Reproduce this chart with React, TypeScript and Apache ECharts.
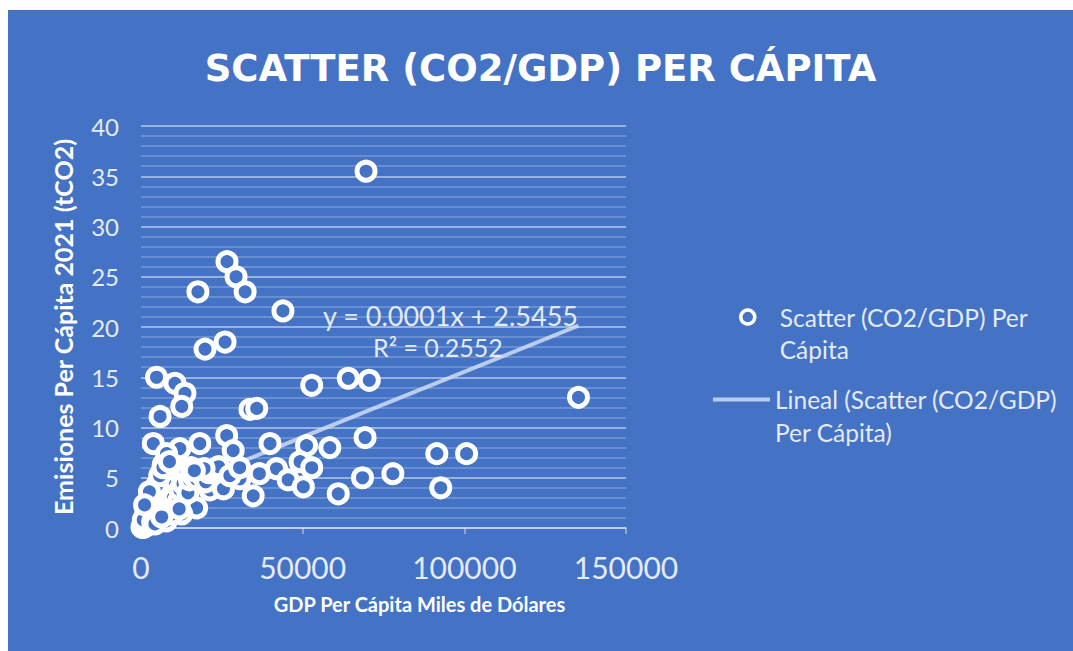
import React, { useEffect, useRef } from "react";
import * as echarts from "echarts";

const titleText = "SCATTER (CO2/GDP) PER CÁPITA";
const xAxisName = "GDP Per Cápita Miles de Dólares";
const yAxisName = "Emisiones Per Cápita 2021 (tCO2)";
const scatterName = "Scatter (CO2/GDP) Per Cápita";
const trendName = "Lineal (Scatter (CO2/GDP) Per Cápita)";
const scatterLegendLines = ["Scatter (CO2/GDP) Per", "Cápita"];
const trendLegendLines = ["Lineal (Scatter (CO2/GDP)", "Per Cápita)"];
const equationText = "y = 0.0001x + 2.5455";
const r2Text = "R² = 0.2552";

// GDP per capita (USD)
const gdpValues: number[] = [
  69600, 26600, 29400, 32200, 17600, 43900, 26000, 19800,
  64100, 70600, 52800, 4800, 10500, 13600, 12600, 5900, 33700, 35800,
  135300, 3800, 18200, 26500, 28500, 39900, 51200, 58400, 49200, 52800,
  41900, 45500, 50200, 36600, 30600, 34700, 61000, 21300, 25500, 17200,
  12600, 6900, 12000, 7900, 69300, 91500, 100700, 92700, 77900, 68500,
  300, 500, 800, 1000, 1200, 1500, 2000, 2200, 2500, 3000, 3300, 3500,
  4000, 4200, 4500, 5000, 5200, 5500, 6000, 6200, 6500, 7000, 7200, 7500,
  8000, 8300, 8600, 9000, 9300, 9600, 10000, 10500, 11000, 11500, 12000,
  12500, 13000, 14000, 14500, 15000, 15500, 16000, 17000, 18000, 19000,
  20000, 21000, 1800, 2800, 3800, 4800, 5800, 6800, 2500, 1500, 700, 3600,
  5600, 7800, 9800, 11800, 22500, 24000, 27500, 30500, 19500, 16500, 8800,
  2600, 1100, 4300, 6400
];

// CO2 emissions per capita 2021 (tCO2)
const co2Values: number[] = [
  35.5, 26.5, 25.0, 23.5, 23.5, 21.6, 18.5, 17.8,
  14.9, 14.7, 14.2, 15.0, 14.4, 13.4, 12.1, 11.1, 11.8, 11.9,
  13.0, 8.4, 8.4, 9.2, 7.7, 8.4, 8.2, 8.0, 6.6, 6.0,
  5.9, 4.8, 4.1, 5.4, 4.9, 3.2, 3.4, 3.8, 3.9, 2.0,
  1.4, 6.3, 7.9, 7.4, 9.0, 7.4, 7.4, 4.0, 5.4, 5.0,
  0.1, 0.05, 0.2, 0.1, 0.3, 0.5, 0.3, 0.8, 1.0, 0.6, 1.5, 2.0,
  1.2, 2.5, 3.0, 1.8, 3.5, 2.2, 4.0, 1.0, 2.8, 3.3, 4.5, 1.6,
  2.4, 3.8, 5.0, 4.2, 2.0, 5.5, 3.0, 4.6, 5.8, 2.6, 3.8,
  5.2, 4.4, 5.6, 3.5, 4.8, 6.0, 5.3, 4.9, 5.6, 5.2,
  4.6, 5.5, 1.2, 2.0, 3.2, 4.2, 5.2, 6.0, 2.8, 1.8, 0.8, 0.6,
  0.9, 0.7, 1.4, 1.9, 5.8, 6.1, 5.2, 6.0, 5.9, 5.7, 6.6,
  3.6, 2.3, 0.4, 1.1
];

const trendSlope = 0.00013;
const trendIntercept = 2.55;

const xTickMax = 150000;
const xTickInterval = 50000;
const yTickMax = 40;
const yTickInterval = 5;

export default function App() {
  const ref = useRef<HTMLDivElement>(null);

  useEffect(() => {
    if (!ref.current) return;
    const chart = echarts.init(ref.current, undefined, { renderer: "svg" });
    const points = gdpValues.map((g, i) => [g, co2Values[i]]);
    const xMin = 0;
    const xMax = Math.max(...gdpValues);
    const trend = [
      [xMin, trendSlope * xMin + trendIntercept],
      [xMax, trendSlope * xMax + trendIntercept],
    ];
    const blue = "#4472C4";
    const lightText = "#E4EAF6";
    const trendColor = "rgba(212,224,246,0.82)";
    const font = "Lato";

    chart.setOption({
      animation: false,
      backgroundColor: blue,
      textStyle: { fontFamily: font },
      title: {
        text: titleText,
        left: "center",
        top: 35,
        textStyle: { color: "#FFFFFF", fontSize: 37, fontWeight: "bold", fontFamily: "DejaVu Sans" },
      },
      grid: { left: 133, top: 116, width: 485, height: 402, containLabel: false },
      xAxis: {
        type: "value",
        min: 0,
        max: xTickMax,
        interval: xTickInterval,
        name: xAxisName,
        nameLocation: "middle",
        nameGap: 66,
        nameTextStyle: {
          color: "#FFFFFF",
          fontSize: 20,
          fontWeight: "bold",
          fontFamily: font,
          padding: [0, 0, 0, 72],
        },
        axisLine: { show: true, lineStyle: { color: "rgba(255,255,255,0.5)", width: 1.5 } },
        axisTick: { show: true, length: 6, lineStyle: { color: "rgba(255,255,255,0.5)", width: 1.5 } },
        axisLabel: {
          color: lightText,
          fontSize: 30,
          margin: 24,
          fontFamily: font,
          formatter: (v: number) => String(v),
        },
        splitLine: { show: false },
      },
      yAxis: {
        type: "value",
        min: 0,
        max: yTickMax,
        interval: yTickInterval,
        name: yAxisName,
        nameLocation: "middle",
        nameGap: 66,
        nameTextStyle: { color: "#FFFFFF", fontSize: 25, fontWeight: "bold", fontFamily: font },
        axisLine: { show: false },
        axisTick: { show: false },
        minorTick: { show: false, splitNumber: 5 },
        axisLabel: { color: lightText, fontSize: 24, margin: 22, fontFamily: font },
        splitLine: { show: true, lineStyle: { color: "rgba(255,255,255,0.45)", width: 2 } },
        minorSplitLine: { show: true, lineStyle: { color: "rgba(255,255,255,0.28)", width: 1.5 } },
      },
      legend: [
        {
          data: [scatterName],
          left: 731,
          top: 259,
          padding: 0,
          itemWidth: 14,
          itemHeight: 14,
          formatter: () => "\n" + scatterLegendLines.join("\n"),
          itemStyle: { color: blue, borderColor: "#FFFFFF", borderWidth: 3.5 },
          textStyle: { color: lightText, fontSize: 24.5, lineHeight: 32, padding: [0, 0, 0, 20], fontFamily: font },
        },
        {
          data: [trendName],
          left: 705,
          top: 340,
          padding: 0,
          itemWidth: 57,
          itemHeight: 4,
          icon: "rect",
          formatter: () => "\n" + trendLegendLines.join("\n"),
          itemStyle: { color: trendColor },
          textStyle: { color: lightText, fontSize: 24.5, lineHeight: 33, padding: [0, 0, 0, 0], fontFamily: font },
        },
      ],
      series: [
        {
          name: trendName,
          type: "line",
          data: trend,
          symbol: "none",
          z: 1,
          lineStyle: { color: trendColor, width: 4 },
        },
        {
          name: scatterName,
          type: "scatter",
          data: points,
          symbol: "circle",
          symbolSize: 18,
          z: 3,
          itemStyle: { color: blue, borderColor: "#FFFFFF", borderWidth: 5, opacity: 1 },
        },
      ],
      graphic: [
        {
          type: "text",
          left: 315,
          top: 292,
          z: 10,
          style: { text: equationText, fill: lightText, fontSize: 27, fontFamily: font },
        },
        {
          type: "text",
          left: 365,
          top: 324,
          z: 10,
          style: { text: r2Text, fill: lightText, fontSize: 25, fontFamily: font },
        },
      ],
    });
    return () => chart.dispose();
  }, []);

  return (
    <div
      ref={ref}
      style={{ position: "fixed", left: 8, top: 10, width: 1065, height: 641 }}
    />
  );
}
